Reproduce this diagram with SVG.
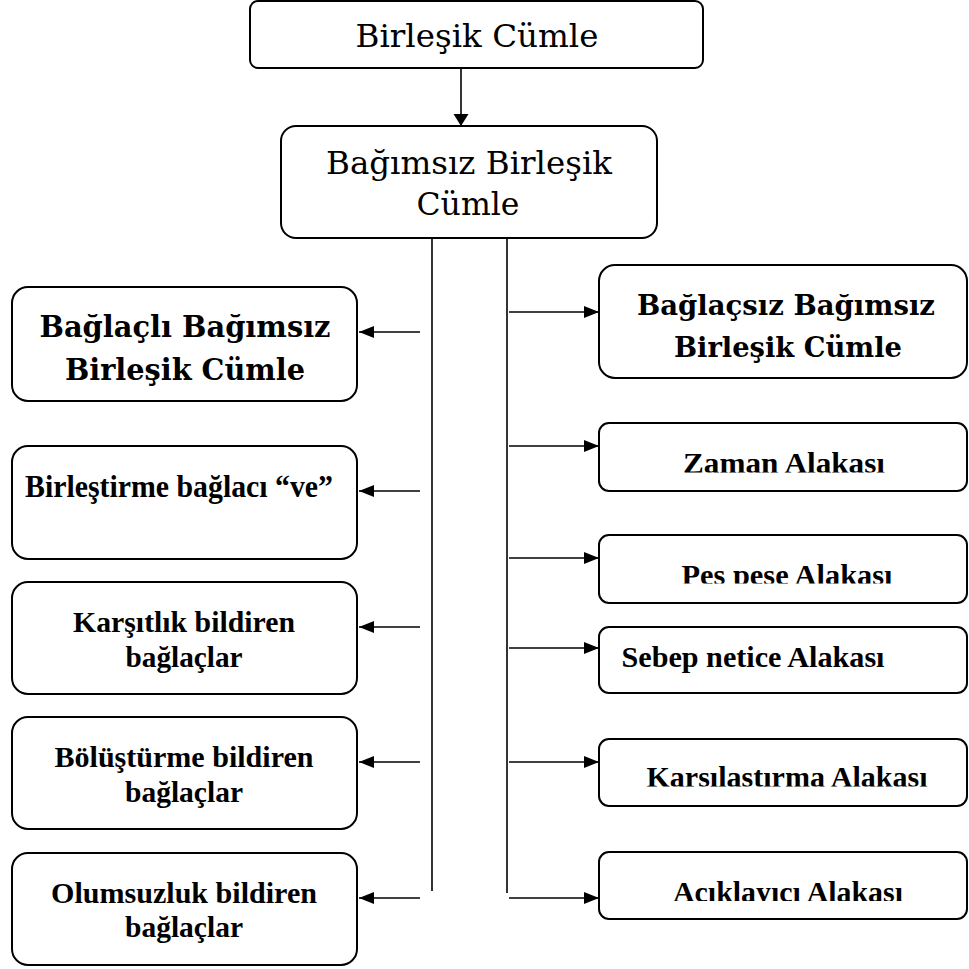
<svg xmlns="http://www.w3.org/2000/svg" width="969" height="969" viewBox="0 0 969 969">
  <style>
    .box { fill: #ffffff; stroke: #000000; stroke-width: 2; }
    .link { fill: none; stroke: #000000; stroke-width: 1.6; }
    .cs { font-family: "DejaVu Serif", "Liberation Serif", serif; fill: #000000; text-anchor: middle; }
    .csb { font-family: "DejaVu Serif", "Liberation Serif", serif; font-weight: bold; fill: #000000; text-anchor: middle; }
    .tb { font-family: "Liberation Serif", "Times New Roman", serif; font-weight: bold; fill: #000000; text-anchor: middle; }
  </style>
  <defs>
    <marker id="head" markerUnits="userSpaceOnUse" markerWidth="16" markerHeight="14" refX="15" refY="6" orient="auto">
      <path d="M0,0 L15,6 L0,12 Z" fill="#000000"/>
    </marker>
    <marker id="headDown" markerUnits="userSpaceOnUse" markerWidth="13" markerHeight="16" refX="12" refY="7.5" orient="auto">
      <path d="M0,0 L12,7.5 L0,15 Z" fill="#000000"/>
    </marker>
    <clipPath id="cutZaman"><rect x="600" y="424" width="366" height="48.5"/></clipPath>
    <clipPath id="cutPes"><rect x="600" y="536" width="366" height="47.5"/></clipPath>
    <clipPath id="cutKars"><rect x="600" y="739" width="366" height="47.5"/></clipPath>
    <clipPath id="cutAcik"><rect x="600" y="853" width="366" height="48"/></clipPath>
  </defs>

  <!-- connectors -->
  <g id="connectors">
    <line class="link" x1="461" y1="68" x2="461" y2="126" marker-end="url(#headDown)"/>
    <line class="link" x1="432" y1="238" x2="432" y2="891"/>
    <line class="link" x1="507" y1="238" x2="507" y2="893"/>
    <!-- left branch arrows -->
    <line class="link" x1="420" y1="332" x2="359" y2="332" marker-end="url(#head)"/>
    <line class="link" x1="420" y1="491" x2="359" y2="491" marker-end="url(#head)"/>
    <line class="link" x1="420" y1="627" x2="359" y2="627" marker-end="url(#head)"/>
    <line class="link" x1="420" y1="762" x2="359" y2="762" marker-end="url(#head)"/>
    <line class="link" x1="420" y1="898" x2="359" y2="898" marker-end="url(#head)"/>
    <!-- right branch arrows -->
    <line class="link" x1="509" y1="312" x2="599" y2="312" marker-end="url(#head)"/>
    <line class="link" x1="509" y1="446" x2="599" y2="446" marker-end="url(#head)"/>
    <line class="link" x1="509" y1="558" x2="599" y2="558" marker-end="url(#head)"/>
    <line class="link" x1="509" y1="648" x2="599" y2="648" marker-end="url(#head)"/>
    <line class="link" x1="509" y1="762" x2="599" y2="762" marker-end="url(#head)"/>
    <line class="link" x1="509" y1="898" x2="599" y2="898" marker-end="url(#head)"/>
  </g>

  <g id="birlesik-cumle">
    <rect class="box" x="250" y="1" width="453" height="67" rx="8"/>
    <text class="cs" x="477" y="47" font-size="32" textLength="243" lengthAdjust="spacingAndGlyphs">Birleşik Cümle</text>
  </g>

  <g id="bagimsiz-birlesik-cumle">
    <rect class="box" x="281" y="126" width="376" height="112" rx="15"/>
    <text class="cs" x="469" y="174" font-size="32" textLength="286" lengthAdjust="spacingAndGlyphs">Bağımsız Birleşik</text>
    <text class="cs" x="468" y="215" font-size="32" textLength="103" lengthAdjust="spacingAndGlyphs">Cümle</text>
  </g>

  <!-- left column -->
  <g id="baglacli">
    <rect class="box" x="12" y="287" width="345" height="114" rx="16"/>
    <text class="csb" x="185" y="337" font-size="30" textLength="291" lengthAdjust="spacingAndGlyphs">Bağlaçlı Bağımsız</text>
    <text class="csb" x="185" y="380" font-size="30" textLength="240" lengthAdjust="spacingAndGlyphs">Birleşik Cümle</text>
  </g>

  <g id="birlestirme">
    <rect class="box" x="12" y="446" width="345" height="113" rx="16"/>
    <text class="tb" x="179" y="497" font-size="31" textLength="308" lengthAdjust="spacingAndGlyphs">Birleştirme bağlacı “ve”</text>
  </g>

  <g id="karsitlik">
    <rect class="box" x="12" y="582" width="345" height="112" rx="16"/>
    <text class="tb" x="184" y="632" font-size="29" textLength="222" lengthAdjust="spacingAndGlyphs">Karşıtlık bildiren</text>
    <text class="tb" x="184" y="667" font-size="29" textLength="117" lengthAdjust="spacingAndGlyphs">bağlaçlar</text>
  </g>

  <g id="bolusturme">
    <rect class="box" x="12" y="717" width="345" height="112" rx="16"/>
    <text class="tb" x="184" y="767" font-size="29" textLength="259" lengthAdjust="spacingAndGlyphs">Bölüştürme bildiren</text>
    <text class="tb" x="184" y="802" font-size="29" textLength="118" lengthAdjust="spacingAndGlyphs">bağlaçlar</text>
  </g>

  <g id="olumsuzluk">
    <rect class="box" x="12" y="853" width="345" height="112" rx="16"/>
    <text class="tb" x="184" y="903" font-size="29" textLength="266" lengthAdjust="spacingAndGlyphs">Olumsuzluk bildiren</text>
    <text class="tb" x="184" y="937" font-size="29" textLength="118" lengthAdjust="spacingAndGlyphs">bağlaçlar</text>
  </g>

  <!-- right column -->
  <g id="baglacsiz">
    <rect class="box" x="599" y="265" width="368" height="113" rx="16"/>
    <text class="csb" x="786" y="315" font-size="28" textLength="298" lengthAdjust="spacingAndGlyphs">Bağlaçsız Bağımsız</text>
    <text class="csb" x="788" y="357" font-size="28" textLength="228" lengthAdjust="spacingAndGlyphs">Birleşik Cümle</text>
  </g>

  <g id="zaman">
    <rect class="box" x="599" y="423" width="368" height="68" rx="10"/>
    <text class="tb" x="784" y="473" font-size="30" textLength="202" lengthAdjust="spacingAndGlyphs" clip-path="url(#cutZaman)">Zaman Alakası</text>
  </g>

  <g id="pes-pese">
    <rect class="box" x="599" y="535" width="368" height="68" rx="10"/>
    <text class="tb" x="787" y="585" font-size="30" textLength="211" lengthAdjust="spacingAndGlyphs" clip-path="url(#cutPes)">Pes pese Alakası</text>
  </g>

  <g id="sebep-netice">
    <rect class="box" x="599" y="627" width="368" height="66" rx="10"/>
    <text class="tb" x="753" y="667" font-size="30" textLength="263" lengthAdjust="spacingAndGlyphs">Sebep netice Alakası</text>
  </g>

  <g id="karsilastirma">
    <rect class="box" x="599" y="739" width="368" height="67" rx="10"/>
    <text class="tb" x="787" y="787" font-size="30" textLength="281" lengthAdjust="spacingAndGlyphs" clip-path="url(#cutKars)">Karsılastırma Alakası</text>
  </g>

  <g id="aciklayici">
    <rect class="box" x="599" y="852" width="368" height="67" rx="10"/>
    <text class="tb" x="788" y="902" font-size="30" textLength="230" lengthAdjust="spacingAndGlyphs" clip-path="url(#cutAcik)">Acıklayıcı Alakası</text>
  </g>
</svg>
